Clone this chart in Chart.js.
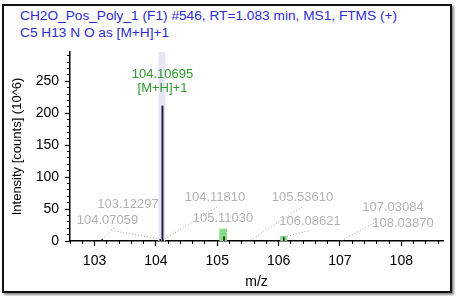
<!DOCTYPE html>
<html><head><meta charset="utf-8">
<script src="https://cdn.jsdelivr.net/npm/chart.js@4.4.1/dist/chart.umd.min.js"></script>
<style>
html,body{margin:0;padding:0;background:#fff;}
#wrap{position:relative;width:457px;height:296px;overflow:hidden;background:#fff;}
#frame{position:absolute;left:2px;top:4px;width:446px;height:285px;border:2px solid #111;box-shadow:2px 2px 2px rgba(0,0,0,0.45);}
#hdr{position:absolute;left:20px;top:7px;font:13.7px "Liberation Sans",Arial,sans-serif;color:#2c2cd2;line-height:17px;white-space:pre;}
canvas{position:absolute;left:0;top:0;}
</style></head><body>
<div id="wrap"><div id="frame"></div>
<div id="hdr"><div>CH2O_Pos_Poly_1 (F1) #546, RT=1.083 min, MS1, FTMS (+)</div><div>C5 H13 N O as [M+H]+1</div></div>
<canvas id="c" width="457" height="296"></canvas></div>
<script>
// ---- data ----
const peakMz = [103.12297, 104.07059, 104.10695, 104.11810, 105.11030, 105.53610, 106.08621, 107.03084, 108.03870];
const peakIntensity = [3, 3, 212, 2, 7.5, 1, 6, 1, 1];
const peakLabels = ['103.12297', '104.07059', '104.10695', '104.11810', '105.11030', '105.53610', '106.08621', '107.03084', '108.03870'];
const assignedPeakIndex = 2;
const assignedIon = '[M+H]+1';
const bandCenters = [104.098, 105.097, 106.085];
const bandHalfWidths = [0.06, 0.065, 0.06];
const bandTops = [296, 19, 8];
const xTickLabels = [103, 104, 105, 106, 107, 108];
const yTickLabels = [0, 50, 100, 150, 200, 250];

// label placement (value units)
const labelMz = [103.545, 103.211, 104.107, 104.963, 105.094, 106.390, 106.512, 107.865, 108.028];
const labelInt = [57.2, 32.1, 261.5, 68.1, 35.2, 68.1, 30.5, 52.5, 28.2];
const leaderStartMz = [103.317, 103.276, null, 104.996, null, 106.382, 106.484, 107.599, null];
const leaderStartInt = [20.4, 16.4, null, 53.2, null, 53.2, 16.1, 30.2, null];

const FONT = '"Liberation Sans", Arial, sans-serif';

const datasets = [];
peakMz.forEach((mz, i) => {
  datasets.push({
    data: [{x: mz, y: 0}, {x: mz, y: peakIntensity[i]}],
    showLine: true, pointRadius: 0, borderWidth: i === assignedPeakIndex ? 2 : 1.5,
    borderColor: i === assignedPeakIndex ? '#1e1e3c' : '#111111', order: 0
  });
});
bandCenters.forEach((c, i) => {
  datasets.push({
    data: [{x: c - bandHalfWidths[i], y: bandTops[i]}, {x: c + bandHalfWidths[i], y: bandTops[i]}],
    showLine: true, pointRadius: 0, borderWidth: 0, borderColor: 'rgba(0,0,0,0)',
    fill: 'origin', backgroundColor: i === 0 ? '#e6e6f8' : '#86dc86', order: 5
  });
});

const labelPlugin = {
  id: 'peakLabels',
  afterDatasetsDraw(chart) {
    const {ctx} = chart; const xs = chart.scales.x, ys = chart.scales.y;
    ctx.save();
    ctx.setLineDash([1, 2]); ctx.strokeStyle = '#a0a0a0'; ctx.lineWidth = 1;
    peakMz.forEach((mz, i) => {
      if (leaderStartMz[i] == null) return;
      ctx.beginPath();
      ctx.moveTo(xs.getPixelForValue(leaderStartMz[i]), ys.getPixelForValue(leaderStartInt[i]));
      ctx.lineTo(xs.getPixelForValue(mz), ys.getPixelForValue(peakIntensity[i]));
      ctx.stroke();
    });
    ctx.setLineDash([]);
    ctx.textAlign = 'center'; ctx.textBaseline = 'middle';
    ctx.font = '13px ' + FONT;
    peakLabels.forEach((t, i) => {
      const px = xs.getPixelForValue(labelMz[i]), py = ys.getPixelForValue(labelInt[i]);
      if (i === assignedPeakIndex) {
        ctx.fillStyle = '#2e9a2e';
        ctx.fillText(t, px, py);
        ctx.fillText(assignedIon, px, py + 14);
      } else {
        ctx.fillStyle = '#b2b2b2';
        ctx.fillText(t, px, py);
      }
    });
    ctx.restore();
  }
};

new Chart(document.getElementById('c'), {
  type: 'scatter',
  data: {datasets},
  options: {
    responsive: false, animation: false, events: [],
    layout: {padding: {left: 6, right: 14, top: 52, bottom: 5}},
    plugins: {legend: {display: false}, tooltip: {enabled: false}, title: {display: false}},
    scales: {
      x: {
        type: 'linear', position: 'bottom', min: 102.6, max: 108.68, weight: 1,
        afterFit: s => { s.height = 50; },
        afterBuildTicks: s => { s.ticks = xTickLabels.map(v => ({value: v})); },
        ticks: {color: '#000', padding: 7, font: {family: FONT, size: 14}, maxRotation: 0, autoSkip: false},
        grid: {display: true, drawOnChartArea: false, drawTicks: true, tickLength: 5, tickColor: '#000', tickWidth: 1.2},
        border: {display: true, color: '#000', width: 1.5},
        title: {display: true, text: 'm/z', color: '#000', font: {family: FONT, size: 14}, padding: {top: 0, bottom: 0}}
      },
      x2: {
        type: 'linear', position: 'bottom', min: 102.6, max: 108.68, weight: -1,
        afterFit: s => { s.height = 0; },
        ticks: {stepSize: 0.2, includeBounds: false, display: false, autoSkip: false},
        grid: {display: true, drawOnChartArea: false, drawTicks: true, tickLength: 3, tickColor: '#000', tickWidth: 1},
        border: {display: false}
      },
      y: {
        type: 'linear', position: 'left', min: 0, max: 296, weight: 1,
        afterFit: s => { s.width = 64; },
        afterBuildTicks: s => { s.ticks = yTickLabels.map(v => ({value: v})); },
        ticks: {color: '#000', padding: 6, font: {family: FONT, size: 14}, autoSkip: false},
        grid: {display: true, drawOnChartArea: false, drawTicks: true, tickLength: 5, tickColor: '#000', tickWidth: 1.2},
        border: {display: true, color: '#000', width: 1.5},
        title: {display: true, text: 'Intensity [counts] (10^6)', color: '#000', font: {family: FONT, size: 13}, padding: {top: 4, bottom: 0}}
      },
      y2: {
        type: 'linear', position: 'left', min: 0, max: 296, weight: -1,
        afterFit: s => { s.width = 0; },
        ticks: {stepSize: 10, includeBounds: false, display: false, autoSkip: false},
        grid: {display: true, drawOnChartArea: false, drawTicks: true, tickLength: 3, tickColor: '#000', tickWidth: 1},
        border: {display: false}
      }
    }
  },
  plugins: [labelPlugin]
});
</script>
</body></html>
